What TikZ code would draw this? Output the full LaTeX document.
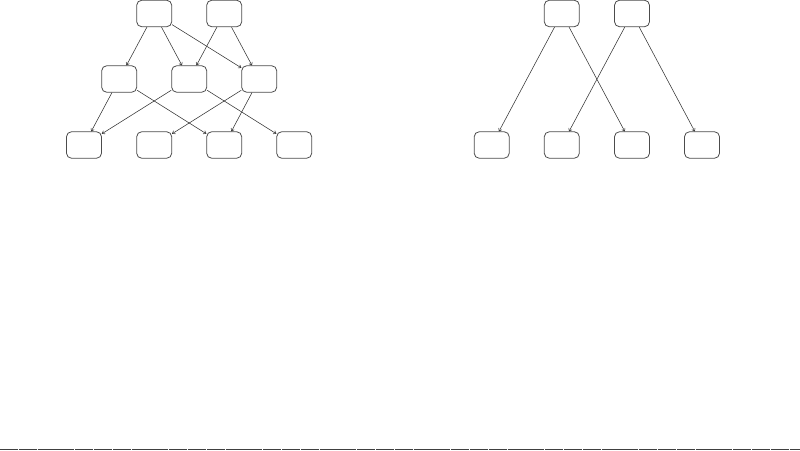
\documentclass[tikz,border=0pt]{standalone}
\usetikzlibrary{arrows.meta}
\begin{document}
\begin{tikzpicture}[x=1pt,y=1pt,
  box/.style={draw=black!70,line width=0.8pt,rounded corners=5pt,minimum width=35pt,minimum height=26.5pt,inner sep=0pt},
  edge/.style={draw=black!80,line width=0.55pt,-{To[length=3pt,width=4pt]}}]
\useasboundingbox (0,0) rectangle (800,450);
% left graph
\node[box] (lt1) at (154.2,436.5) {};
\node[box] (lt2) at (224.2,436.5) {};
\node[box] (lm1) at (119.2,371) {};
\node[box] (lm2) at (189.2,371) {};
\node[box] (lm3) at (259.2,371) {};
\node[box] (lb1) at (84,305) {};
\node[box] (lb2) at (154.2,305) {};
\node[box] (lb3) at (224.2,305) {};
\node[box] (lb4) at (294.2,305) {};
\draw[edge] (lt1) -- (lm1);
\draw[edge] (lt1) -- (lm2);
\draw[edge] (lt1) -- (lm3);
\draw[edge] (lt2) -- (lm2);
\draw[edge] (lt2) -- (lm3);
\draw[edge] (lm1) -- (lb1);
\draw[edge] (lm1) -- (lb3);
\draw[edge] (lm2) -- (lb1);
\draw[edge] (lm2) -- (lb4);
\draw[edge] (lm3) -- (lb2);
\draw[edge] (lm3) -- (lb3);
% right graph
\node[box] (rt1) at (561.8,436.5) {};
\node[box] (rt2) at (632,436.5) {};
\node[box] (rb1) at (491.7,305) {};
\node[box] (rb2) at (561.8,305) {};
\node[box] (rb3) at (632,305) {};
\node[box] (rb4) at (702,305) {};
\draw[edge] (rt1) -- (rb1);
\draw[edge] (rt1) -- (rb3);
\draw[edge] (rt2) -- (rb2);
\draw[edge] (rt2) -- (rb4);
% bottom rule
\coordinate (bl) at (0,0.6);
\coordinate (br) at (800,0.6);
\draw[black!75,line width=1pt,dash pattern=on 18pt off 0.8pt] (bl) -- (br);
\end{tikzpicture}
\end{document}
